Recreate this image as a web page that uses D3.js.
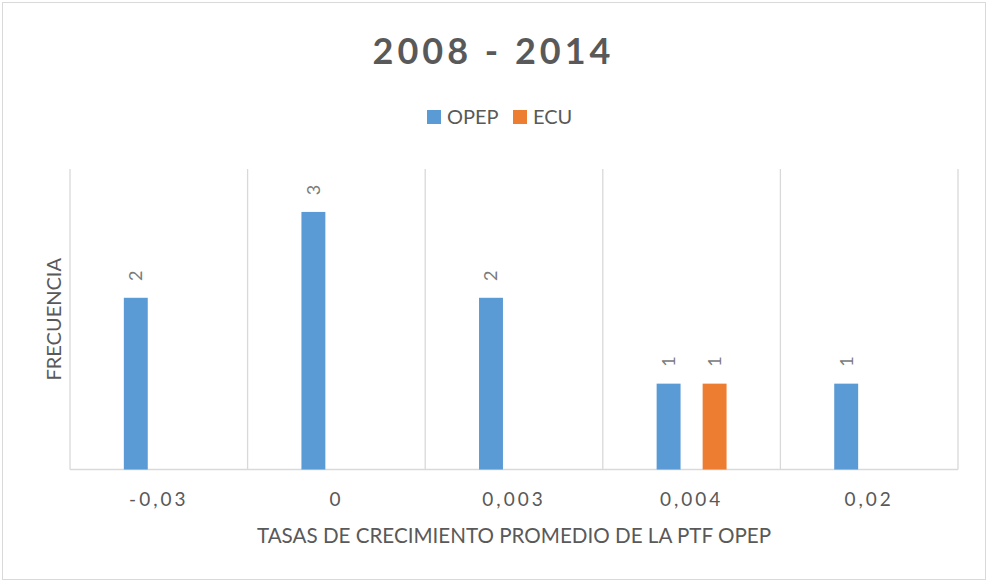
<!DOCTYPE html>
<html>
<head>
<meta charset="utf-8">
<script src="https://cdn.jsdelivr.net/npm/d3@7"></script>
<style>
  body { margin: 0; background: #fff; }
  text { font-family: Lato, "Open Sans", sans-serif; fill: #595959; }
</style>
</head>
<body>
<svg width="987" height="581"></svg>
<script>
// chart data
const categories = ["-0,03", "0", "0,003", "0,004", "0,02"];
const seriesNames = ["OPEP", "ECU"];
const opepValues = [2, 3, 2, 1, 1];
const ecuValues = [null, null, null, 1, null];
const seriesColors = ["#5B9BD5", "#ED7D31"];

const svg = d3.select("svg");
const width = +svg.attr("width");
const height = +svg.attr("height");
const margin = { top: 169, right: 29, bottom: 111.5, left: 70 };
const plotW = width - margin.left - margin.right;
const plotH = height - margin.top - margin.bottom;

// outer border of the chart area
svg.append("rect")
  .attr("x", 2.5).attr("y", 2.5)
  .attr("width", width - 4).attr("height", height - 4)
  .attr("fill", "#fff").attr("stroke", "#d9d9d9");

const g = svg.append("g").attr("transform", `translate(${margin.left},${margin.top})`);

const x = d3.scaleBand().domain(categories).range([0, plotW]).padding(0);
const xs = d3.scaleBand().domain(seriesNames).range([0, x.bandwidth()])
  .paddingInner(0.48).paddingOuter(1.17);
const y = d3.scaleLinear().domain([0, 3.5]).range([plotH, 0]);

// vertical separators between categories
const bounds = categories.map((c) => x(c)).concat([plotW]);
g.selectAll("line.grid")
  .data(bounds)
  .enter()
  .append("line")
  .attr("class", "grid")
  .attr("x1", (d) => d).attr("x2", (d) => d)
  .attr("y1", 0).attr("y2", plotH)
  .attr("stroke", "#d9d9d9").attr("stroke-width", 1.3);

// baseline
g.append("line")
  .attr("x1", 0).attr("x2", plotW)
  .attr("y1", plotH).attr("y2", plotH)
  .attr("stroke", "#d9d9d9").attr("stroke-width", 1.5);

// flatten into bar records
const bars = [];
categories.forEach((c, i) => {
  [opepValues, ecuValues].forEach((vals, s) => {
    if (vals[i] != null) bars.push({ cat: c, series: seriesNames[s], value: vals[i], color: seriesColors[s] });
  });
});

g.selectAll("rect.bar")
  .data(bars)
  .enter()
  .append("rect")
  .attr("class", "bar")
  .attr("x", (d) => x(d.cat) + xs(d.series))
  .attr("y", (d) => y(d.value))
  .attr("width", xs.bandwidth())
  .attr("height", (d) => plotH - y(d.value))
  .attr("fill", (d) => d.color);

// rotated value labels above the bars
g.selectAll("text.lbl")
  .data(bars)
  .enter()
  .append("text")
  .attr("class", "lbl")
  .attr("transform", (d) => `translate(${x(d.cat) + xs(d.series) + xs.bandwidth() / 2},${y(d.value) - 22}) rotate(-90)`)
  .attr("text-anchor", "middle")
  .attr("dy", "0.36em")
  .style("font-size", "18px")
  .style("fill", "#7a7a7a")
  .text((d) => d.value);

// category tick labels
g.selectAll("text.tick")
  .data(categories)
  .enter()
  .append("text")
  .attr("class", "tick")
  .attr("x", (d) => x(d) + x.bandwidth() / 2)
  .attr("y", plotH + 36)
  .attr("text-anchor", "middle")
  .style("font-size", "19px")
  .style("letter-spacing", "3px")
  .text((d) => d);

// axis titles
g.append("text")
  .attr("x", plotW / 2).attr("y", plotH + 73)
  .attr("text-anchor", "middle")
  .style("font-size", "20.6px")
  .text("TASAS DE CRECIMIENTO PROMEDIO DE LA PTF OPEP");

svg.append("text")
  .attr("transform", `translate(61,${margin.top + plotH / 2}) rotate(-90)`)
  .attr("text-anchor", "middle")
  .style("font-size", "20px")
  .text("FRECUENCIA");

// title
svg.append("text")
  .attr("x", width / 2).attr("y", 64)
  .attr("text-anchor", "middle")
  .style("font-size", "36px")
  .style("font-weight", "bold")
  .style("letter-spacing", "4px")
  .text("2008 - 2014");

// legend
const legend = svg.append("g").attr("transform", "translate(427,110)");
const items = legend.selectAll("g")
  .data(seriesNames)
  .enter()
  .append("g")
  .attr("transform", (d, i) => `translate(${i * 86},0)`);
items.append("rect")
  .attr("width", 14).attr("height", 14)
  .attr("fill", (d, i) => seriesColors[i]);
items.append("text")
  .attr("x", 20).attr("y", 14)
  .style("font-size", "20px")
  .text((d) => d);
</script>
</body>
</html>
